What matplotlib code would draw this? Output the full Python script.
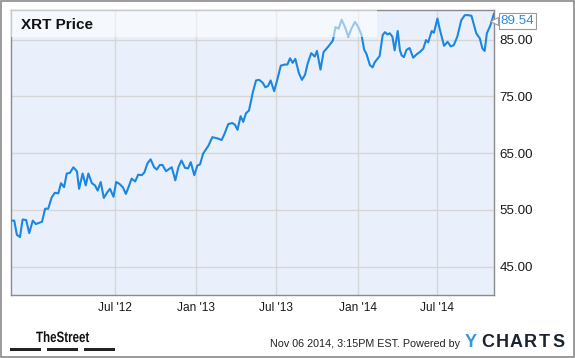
import matplotlib
matplotlib.use('Agg')
import matplotlib.pyplot as plt
import matplotlib.transforms as mtrans
from matplotlib.patches import Rectangle, PathPatch
from matplotlib.textpath import TextPath
from matplotlib.font_manager import FontProperties
import pandas as pd

plt.rcParams['font.family'] = ['Liberation Sans', 'DejaVu Sans']

# XRT 주간 종가
dates = [
    '2011-11-07', '2011-11-15', '2011-11-21', '2011-11-28', '2011-12-04', '2011-12-12',
    '2011-12-19', '2011-12-27', '2012-01-03', '2012-01-17', '2012-01-24', '2012-01-31',
    '2012-02-08', '2012-02-15', '2012-02-23', '2012-02-29', '2012-03-07', '2012-03-13',
    '2012-03-20', '2012-03-28', '2012-04-05', '2012-04-10', '2012-04-18', '2012-04-25',
    '2012-05-01', '2012-05-09', '2012-05-16', '2012-05-22', '2012-05-29', '2012-06-05',
    '2012-06-13', '2012-06-19', '2012-06-27', '2012-07-03', '2012-07-10', '2012-07-18',
    '2012-07-25', '2012-08-01', '2012-08-07', '2012-08-15', '2012-08-22', '2012-08-30',
    '2012-09-05', '2012-09-12', '2012-09-19', '2012-09-27', '2012-10-03', '2012-10-10',
    '2012-10-16', '2012-10-24', '2012-10-31', '2012-11-06', '2012-11-14', '2012-11-21',
    '2012-11-28', '2012-12-06', '2012-12-13', '2012-12-19', '2012-12-27', '2013-01-03',
    '2013-01-09', '2013-01-16', '2013-01-28', '2013-02-06', '2013-02-17', '2013-02-27',
    '2013-03-05', '2013-03-14', '2013-03-23', '2013-03-29', '2013-04-04', '2013-04-11',
    '2013-04-17', '2013-04-23', '2013-04-30', '2013-05-09', '2013-05-16', '2013-05-23',
    '2013-05-31', '2013-06-06', '2013-06-12', '2013-06-18', '2013-06-26', '2013-07-03',
    '2013-07-11', '2013-07-20', '2013-07-26', '2013-08-01', '2013-08-07', '2013-08-13',
    '2013-08-21', '2013-08-28', '2013-09-04', '2013-09-10', '2013-09-18', '2013-09-26',
    '2013-10-01', '2013-10-09', '2013-10-16', '2013-10-26', '2013-11-06', '2013-11-12',
    '2013-11-19', '2013-11-26', '2013-12-04', '2013-12-11', '2013-12-18', '2013-12-26',
    '2014-01-02', '2014-01-10', '2014-01-16', '2014-01-21', '2014-01-29', '2014-02-04',
    '2014-02-09', '2014-02-17', '2014-02-20', '2014-02-27', '2014-03-04', '2014-03-10',
    '2014-03-15', '2014-03-21', '2014-03-26', '2014-04-02', '2014-04-07', '2014-04-11',
    '2014-04-16', '2014-04-22', '2014-04-29', '2014-05-07', '2014-05-15', '2014-05-22',
    '2014-05-30', '2014-06-05', '2014-06-10', '2014-06-18', '2014-06-23', '2014-07-01',
    '2014-07-06', '2014-07-16', '2014-07-24', '2014-07-31', '2014-08-07', '2014-08-15',
    '2014-08-24', '2014-09-01', '2014-09-08', '2014-09-16', '2014-09-21', '2014-09-27',
    '2014-10-05', '2014-10-11', '2014-10-16', '2014-10-21', '2014-10-29', '2014-11-06',
]
prices = [
    53.1, 53.1, 50.6, 50.2, 53.3, 53.2, 50.9, 53.1, 52.5, 52.9, 55.2, 55.2,
    57.2, 58.0, 57.9, 59.7, 59.0, 61.4, 61.5, 62.5, 61.8, 58.7, 61.4, 59.3,
    61.4, 59.7, 59.3, 58.4, 59.9, 57.1, 58.1, 58.7, 57.3, 59.9, 59.6, 59.0,
    57.8, 59.2, 60.5, 60.0, 61.2, 61.1, 61.6, 63.2, 63.9, 62.5, 62.1, 62.9,
    62.9, 61.8, 62.2, 62.5, 60.2, 62.5, 63.7, 62.4, 62.3, 63.4, 61.1, 62.8,
    63.0, 64.9, 66.3, 67.8, 67.6, 67.3, 68.3, 70.1, 70.3, 70.0, 69.1, 71.5,
    70.5, 72.0, 72.5, 75.8, 77.8, 77.9, 77.4, 76.6, 76.8, 77.8, 75.9, 77.9,
    80.4, 80.6, 80.6, 81.7, 80.9, 81.6, 79.1, 77.9, 78.8, 80.8, 82.6, 82.0,
    83.0, 79.7, 82.8, 83.7, 84.8, 87.2, 86.9, 88.5, 87.1, 85.5, 86.9, 88.1,
    87.3, 85.8, 83.2, 82.5, 80.5, 80.1, 81.0, 81.8, 82.1, 85.8, 86.3, 85.9,
    86.1, 85.5, 83.1, 86.5, 83.1, 82.2, 81.9, 83.2, 83.5, 81.8, 82.4, 82.8,
    83.4, 84.9, 84.5, 86.5, 86.2, 88.7, 86.9, 83.9, 84.6, 83.8, 84.0, 85.5,
    88.4, 89.3, 89.3, 89.2, 87.8, 86.1, 85.2, 83.4, 83.0, 86.1, 87.5, 89.54,
]
y_ticks = [45, 55, 65, 75, 85]
x_ticks = ['2012-07-01', '2013-01-01', '2013-07-01', '2014-01-01', '2014-07-01']
x_labels = ["Jul '12", "Jan '13", "Jul '13", "Jan '14", "Jul '14"]

dates = pd.to_datetime(dates)

line_color = '#1a87e3'
grid_color = '#d6d6d6'
edge_color = '#8a8a8a'

fig = plt.figure(figsize=(5.75, 3.58), dpi=100)
fig.patch.set_facecolor('white')

# 바깥 테두리
fig.patches.append(Rectangle((0.001, 0.002), 0.997, 0.995, transform=fig.transFigure,
                             fill=False, edgecolor=edge_color, linewidth=1.2))

ax = fig.add_axes([0.0186, 0.176, 0.8404, 0.796])
ax.set_facecolor('#eaf0fb')
ax.plot(dates, prices, color=line_color, linewidth=1.5, zorder=3)

ax.set_xlim(dates[0], dates[-1])
ax.set_ylim(40, 90.2)

ax.yaxis.tick_right()
ax.set_yticks(y_ticks)
ax.set_yticklabels([f'{v:.2f}' for v in y_ticks])
ax.set_xticks(pd.to_datetime(x_ticks))
ax.set_xticklabels(x_labels)
ax.tick_params(axis='y', length=0, pad=4, labelsize=9.6, labelcolor='#1a1a1a')
ax.tick_params(axis='x', length=0, pad=5, labelsize=8.6, labelcolor='#1a1a1a')
ax.grid(True, color=grid_color, linewidth=1.0, zorder=1)
ax.set_axisbelow(True)
for sp in ax.spines.values():
    sp.set_color(edge_color)
    sp.set_linewidth(1.0)

# 제목 영역 (반투명 흰색 띠)
ax.add_patch(Rectangle((0, 0.905), 0.758, 0.095, transform=ax.transAxes,
                       facecolor='white', alpha=0.55, edgecolor='none', zorder=4))
ax.text(0.022, 0.946, 'XRT Price', transform=ax.transAxes, fontsize=11,
        fontweight='bold', color='#111111', va='center', ha='left', zorder=5)

# 마지막 값 표시 (상단에 붙여서)
label_y = 0.963
ax.plot([1.0], [label_y], transform=ax.transAxes, marker='<', markersize=6,
        markerfacecolor='white', markeredgecolor='#999999', clip_on=False, zorder=6,
        markeredgewidth=0.8)
ax.annotate(f'{prices[-1]:.2f}', xy=(1.0, label_y), xycoords='axes fraction',
            xytext=(5, 0), textcoords='offset points', va='center', ha='left',
            fontsize=9.6, color='#2a8be0', annotation_clip=False, zorder=7,
            bbox=dict(boxstyle='square,pad=0.15', facecolor='white',
                      edgecolor='#999999', linewidth=0.8))

# 하단 로고/문구
logo_path = TextPath((0, 0), 'TheStreet', size=15,
                     prop=FontProperties(family='Liberation Sans', weight='bold'))
logo_trans = mtrans.Affine2D().scale(0.77, 1.0).translate(36, 358 - 342) + mtrans.IdentityTransform()
fig.patches.append(PathPatch(logo_path, transform=logo_trans, facecolor='#111111',
                             edgecolor='none'))
for x0 in [10, 47, 84]:
    fig.patches.append(Rectangle((x0 / 575, 0.020), 31 / 575, 0.009,
                                 transform=fig.transFigure,
                                 facecolor='#222222', edgecolor='none'))
fig.text(0.4687, 0.040, 'Nov 06 2014, 3:15PM EST. Powered by', fontsize=7.75,
         color='#222222', ha='left', va='center')
fig.text(0.8087, 0.042, 'Y', fontsize=13, fontweight='bold', color='#3399dd',
         ha='left', va='center')
for i, ch in enumerate('CHARTS'):
    fig.text(0.8365 + i * 0.0249, 0.042, ch, fontsize=13, fontweight='bold',
             color='#1c2330', ha='left', va='center')

fig.savefig('out.png', dpi=100)
